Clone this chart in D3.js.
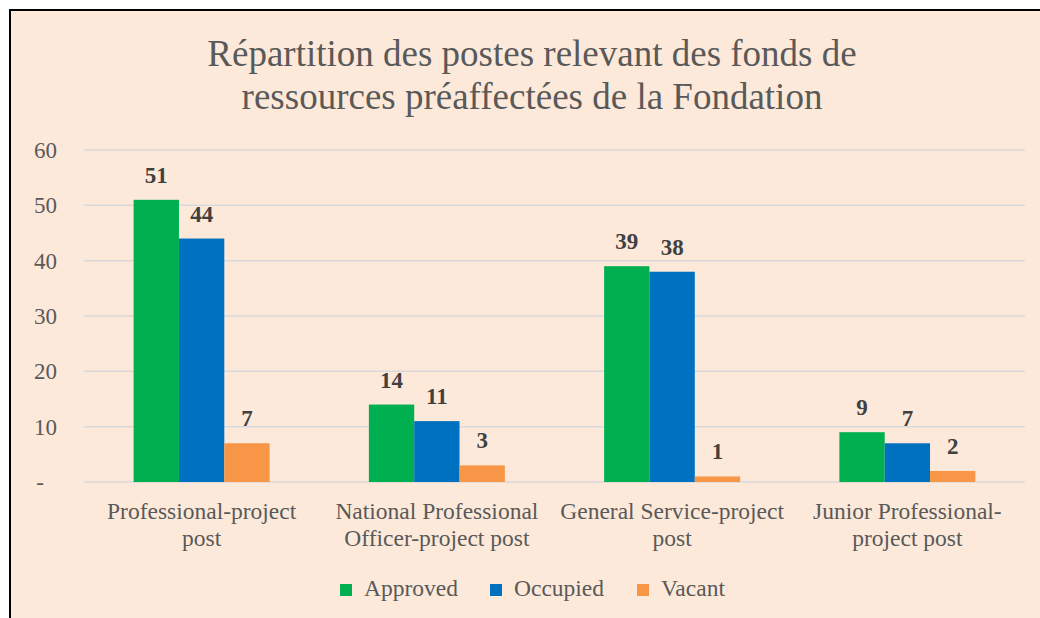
<!DOCTYPE html>
<html>
<head>
<meta charset="utf-8">
<script src="https://cdn.jsdelivr.net/npm/d3@7"></script>
<style>
  body { margin: 0; background: #fff; }
</style>
</head>
<body>
<div id="chart"></div>
<script>
// data
const categories = [
    ["Professional-project", "post"],
    ["National Professional", "Officer-project post"],
    ["General Service-project", "post"],
    ["Junior Professional-", "project post"]
];
const seriesNames = ["Approved", "Occupied", "Vacant"];
const approved = [51, 14, 39, 9];
const occupied = [44, 11, 38, 7];
const vacant = [7, 3, 1, 2];
const yTicks = [0, 10, 20, 30, 40, 50, 60];
const titleLines = ["Répartition des postes relevant des fonds de", "ressources préaffectées de la Fondation"];

const colors = ["#00B050", "#0070C0", "#F79646"];
const series = [approved, occupied, vacant];
const serif = "'Liberation Serif', serif";

const width = 1040, height = 618;
const margin = {top: 150, right: 15, bottom: 136, left: 84};

const svg = d3.select("#chart").append("svg")
    .attr("width", width)
    .attr("height", height);

// frame
svg.append("rect")
    .attr("x", 10).attr("y", 10)
    .attr("width", width + 20).attr("height", height + 20)
    .attr("fill", "#FDE9DA")
    .attr("stroke", "#000")
    .attr("stroke-width", 2);

// title
svg.append("text")
    .attr("text-anchor", "middle")
    .attr("fill", "#595959")
    .style("font-family", serif)
    .style("font-size", "37px")
    .selectAll("tspan")
    .data(titleLines)
    .enter().append("tspan")
    .attr("x", 532)
    .attr("y", (d, i) => 66 + i * 43)
    .text(d => d);

const y = d3.scaleLinear().domain([0, 60]).range([482, 150]);
const x0 = d3.scaleBand().domain(d3.range(categories.length)).range([margin.left, 1025]);
const groupW = 136;
const x1 = d3.scaleBand().domain(d3.range(seriesNames.length)).range([0, groupW]);

// gridlines
svg.append("g")
    .selectAll("line")
    .data(yTicks)
    .enter().append("line")
    .attr("x1", margin.left).attr("x2", 1025)
    .attr("y1", d => y(d)).attr("y2", d => y(d))
    .attr("stroke", "#D9D9D9")
    .attr("stroke-width", 1.5);

// y axis labels
const yAxis = d3.axisLeft(y).tickValues(yTicks).tickSize(0).tickPadding(0)
    .tickFormat(d => d === 0 ? "-" : d);
const yg = svg.append("g")
    .attr("transform", "translate(57,0)")
    .call(yAxis)
    .attr("font-family", null)
    .attr("font-size", null);
yg.select(".domain").remove();
yg.selectAll("text")
    .attr("fill", "#595959")
    .style("font-size", "23px")
    .style("font-family", serif)
    .attr("dy", "0.33em")
    .attr("x", d => d === 0 ? -13 : 0);

// bars
const groups = svg.append("g")
    .selectAll("g")
    .data(categories)
    .enter().append("g")
    .attr("transform", (d, i) => "translate(" + (x0(i) + x0.bandwidth() / 2 - groupW / 2) + ",0)");

groups.selectAll("rect")
    .data((d, i) => series.map((s, j) => ({s: j, v: s[i]})))
    .enter().append("rect")
    .attr("x", d => x1(d.s))
    .attr("width", x1.bandwidth())
    .attr("y", d => y(d.v))
    .attr("height", d => y(0) - y(d.v))
    .attr("fill", d => colors[d.s]);

groups.selectAll(".lbl")
    .data((d, i) => series.map((s, j) => ({s: j, v: s[i]})))
    .enter().append("text")
    .attr("class", "lbl")
    .attr("x", d => x1(d.s) + x1.bandwidth() / 2)
    .attr("y", d => y(d.v) - 17)
    .attr("text-anchor", "middle")
    .attr("fill", "#404040")
    .style("font-family", serif)
    .style("font-size", "23px")
    .style("font-weight", "bold")
    .text(d => d.v);

// category labels
const xl = svg.append("g")
    .selectAll("text")
    .data(categories)
    .enter().append("text")
    .attr("text-anchor", "middle")
    .attr("fill", "#595959")
    .style("font-family", serif)
    .style("font-size", "23.5px");
xl.selectAll("tspan")
    .data((d, i) => d.map(t => ({t: t, i: i})))
    .enter().append("tspan")
    .attr("x", d => x0(d.i) + x0.bandwidth() / 2)
    .attr("y", (d, k) => 519 + k * 27)
    .text(d => d.t);

// legend
const legendX = [340, 490, 637];
const lg = svg.append("g")
    .selectAll("g")
    .data(seriesNames)
    .enter().append("g")
    .attr("transform", (d, i) => "translate(" + legendX[i] + ",584)");
lg.append("rect")
    .attr("width", 12).attr("height", 12)
    .attr("fill", (d, i) => colors[i]);
lg.append("text")
    .attr("x", 24).attr("y", 12)
    .attr("fill", "#595959")
    .style("font-family", serif)
    .style("font-size", "23.5px")
    .text(d => d);
</script>
</body>
</html>
